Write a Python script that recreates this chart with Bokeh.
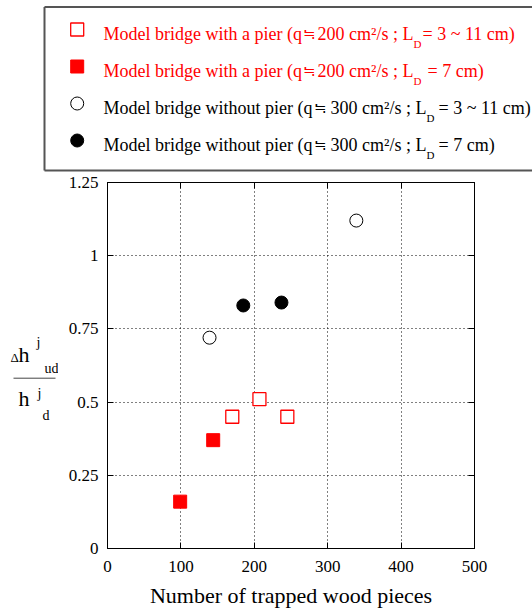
from bokeh.plotting import figure
from bokeh.layouts import column, row
from bokeh.models import FixedTicker, LinearAxis, Range1d
from bokeh.core.properties import value
from bokeh.embed import file_html
from bokeh.resources import INLINE

# ---- data ----
pier_range_x = [170, 207, 245]
pier_range_y = [0.45, 0.51, 0.45]
pier_7_x = [99, 144]
pier_7_y = [0.16, 0.37]
nopier_range_x = [139, 339]
nopier_range_y = [0.72, 1.12]
nopier_7_x = [185, 237]
nopier_7_y = [0.83, 0.84]

x_ticks = [0, 100, 200, 300, 400, 500]
y_ticks = [0, 0.25, 0.5, 0.75, 1, 1.25]
y_tick_labels = ["0", "0.25", "0.5", "0.75", "1", "1.25"]
x_label = "Number of trapped wood pieces"

legend_head = [
    "Model bridge with a pier (q",
    "Model bridge with a pier (q",
    "Model bridge without pier (q",
    "Model bridge without pier (q",
]
legend_approx = ["\u2252", "\u2252", "\u2252", "\u2252"]
legend_mid = ["200 cm\u00b2/s ; L", "200 cm\u00b2/s ; L", "300 cm\u00b2/s ; L", "300 cm\u00b2/s ; L"]
legend_sub = ["D", "D", "D", "D"]
legend_tail = ["= 3  ~  11 cm)", "= 7 cm)", "= 3 ~ 11 cm)", "= 7 cm)"]
legend_colors = ["#ff0000", "#ff0000", "black", "black"]

FONT = value("Liberation Serif")

# ---- main plot ----
p = figure(width=474, height=442, x_range=Range1d(0, 500), y_range=Range1d(0, 1.25),
           output_backend="svg", toolbar_location=None,
           min_border_left=49, min_border_right=58, min_border_top=8, min_border_bottom=68)
p.background_fill_color = "white"
p.border_fill_color = "white"
p.outline_line_color = "black"
p.outline_line_width = 1

for ax in p.axis:
    ax.axis_line_color = "black"
    ax.major_tick_in = 6
    ax.major_tick_out = 0
    ax.minor_tick_line_color = None
    ax.major_tick_line_color = "black"
    ax.major_label_text_font = "Liberation Serif"
    ax.major_label_text_font_size = "17px"
    ax.major_label_text_color = "black"

p.xaxis.ticker = FixedTicker(ticks=x_ticks)
p.yaxis.ticker = FixedTicker(ticks=y_ticks)
p.yaxis.major_label_overrides = {t: l for t, l in zip(y_ticks, y_tick_labels)}
p.xaxis.major_label_standoff = 12
p.yaxis.major_label_standoff = 9
p.xaxis.axis_label = x_label
p.xaxis.axis_label_text_font = "Liberation Serif"
p.xaxis.axis_label_text_font_size = "22px"
p.xaxis.axis_label_text_font_style = "normal"
p.xaxis.axis_label_text_color = "black"
p.xaxis.axis_label_standoff = 8

for loc, tick in (("right", y_ticks), ("above", x_ticks)):
    ax = LinearAxis(ticker=FixedTicker(ticks=tick), major_tick_in=6, major_tick_out=0,
                    minor_tick_line_color=None, major_label_text_font_size="0px",
                    major_label_text_color=None, major_label_text_alpha=0,
                    major_label_standoff=0, axis_line_color="black")
    p.add_layout(ax, loc)

p.xgrid.ticker = FixedTicker(ticks=x_ticks)
p.ygrid.ticker = FixedTicker(ticks=y_ticks)
p.grid.grid_line_color = "black"
p.grid.grid_line_dash = "1 3"
p.grid.grid_line_width = 1

p.scatter(pier_range_x, pier_range_y, marker="square", size=13,
          fill_color="white", line_color="#ff0000", line_width=1.3)
p.scatter(pier_7_x, pier_7_y, marker="square", size=13,
          fill_color="#ff0000", line_color="#ff0000")
p.scatter(nopier_range_x, nopier_range_y, marker="circle", size=13,
          fill_color="white", line_color="black", line_width=1)
p.scatter(nopier_7_x, nopier_7_y, marker="circle", size=13,
          fill_color="black", line_color="black")

# ---- legend figure ----
lg = figure(width=532, height=174, x_range=Range1d(0, 532), y_range=Range1d(0, 174),
            output_backend="svg", toolbar_location=None, x_axis_type=None, y_axis_type=None,
            min_border=0)
lg.outline_line_color = None
lg.grid.visible = False
lg.segment(x0=[44, 44, 44], y0=[4, 167.5, 4], x1=[44, 540, 540], y1=[167.5, 167.5, 4],
           line_color="#555555", line_width=2)

row_mid = [141, 104, 67, 30]
sub_mid = [130.5, 93.5, 56.5, 19.5]
mark_y = [145, 108, 71, 34]
approx_x = [302, 302, 313, 313]
mid_x = [317, 317, 330, 330]
sub_x = [413, 413, 426, 426]
tail_x = [422, 427, 438, 438]

lg.scatter([76.7], [mark_y[0]], marker="square", size=13, fill_color="white",
           line_color="#ff0000", line_width=1.3)
lg.scatter([76.7], [mark_y[1]], marker="square", size=13, fill_color="#ff0000",
           line_color="#ff0000")
lg.scatter([76.7], [mark_y[2]], marker="circle", size=13, fill_color="white",
           line_color="black", line_width=1)
lg.scatter([76.7], [mark_y[3]], marker="circle", size=13, fill_color="black",
           line_color="black")

common = dict(text_font=FONT, text_baseline="middle", text_align="left")
lg.text(x=[103] * 4, y=row_mid, text=legend_head, text_color=legend_colors,
        text_font_size="18px", **common)
lg.text(x=approx_x, y=row_mid, text=legend_approx, text_color=legend_colors,
        text_font_size="15px", **common)
lg.text(x=mid_x, y=row_mid, text=legend_mid, text_color=legend_colors,
        text_font_size="18px", **common)
lg.text(x=sub_x, y=sub_mid, text=legend_sub, text_color=legend_colors,
        text_font_size="11px", **common)
lg.text(x=tail_x, y=row_mid, text=legend_tail, text_color=legend_colors,
        text_font_size="18px", **common)

# ---- y label figure (frame aligned with the main plot frame) ----
yl = figure(width=58, height=442, x_range=Range1d(0, 58), y_range=Range1d(68, 434),
            output_backend="svg", toolbar_location=None, x_axis_type=None, y_axis_type=None,
            min_border_left=0, min_border_right=0, min_border_top=8, min_border_bottom=68)
yl.outline_line_color = None
yl.grid.visible = False
yl.text(x=[10], y=[259.4], text=["\u0394"], text_font_size="13px", text_color="black", **common)
yl.text(x=[18, 18], y=[262.5, 218.5], text=["h", "h"], text_font_size="22px",
        text_color="black", **common)
yl.text(x=[36, 44, 37, 42], y=[273.8, 247.8, 222.8, 200.8], text=["j", "ud", "j", "d"],
        text_font_size="14px", text_color="black", **common)
yl.segment(x0=[13], y0=[238.3], x1=[55], y1=[238.3], line_color="#444444", line_width=1)

layout = column(lg, row(yl, p))
open("out.html", "w").write(file_html(layout, INLINE))
